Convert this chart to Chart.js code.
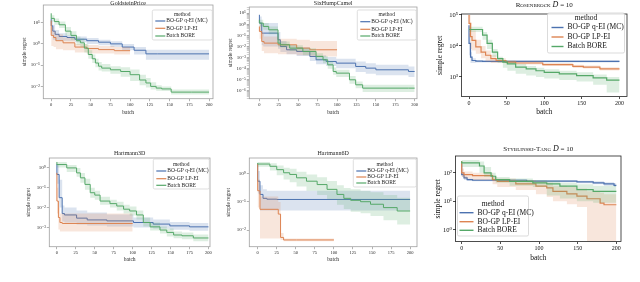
<!DOCTYPE html>
<html>
<head>
<meta charset="utf-8">
<script src="https://cdn.jsdelivr.net/npm/chart.js@4.4.0/dist/chart.umd.min.js"></script>
<style>
  html, body { margin: 0; padding: 0; background: #fff; }
  body { position: relative; width: 640px; height: 282px; overflow: hidden; }
  canvas { position: absolute; }
</style>
</head>
<body>
<script>
// values are log10(simple regret)

// GoldsteinPrice
const gpQeiX = [0, 2, 5, 10, 20, 30, 45, 60, 75, 90, 105, 120, 135, 200];
const gpQeiMid = [1.2, 0.85, 0.6, 0.45, 0.35, 0.3, 0.22, 0.15, 0.08, 0.0, -0.15, -0.3, -0.47, -0.47];
const gpQeiLo = [0.9, 0.4, 0.2, 0.15, 0.15, 0.15, 0.08, 0.0, -0.07, -0.15, -0.3, -0.5, -0.75, -0.75];
const gpQeiHi = [1.35, 1.1, 0.9, 0.65, 0.5, 0.42, 0.35, 0.28, 0.2, 0.12, 0.0, -0.15, -0.28, -0.28];
const gpLpX = [0, 3, 6, 15, 30, 45, 60, 80, 100];
const gpLpMid = [1.1, 0.4, 0.3, 0.15, 0.05, -0.15, -0.22, -0.27, -0.32];
const gpLpLo = [0.6, -0.1, -0.15, -0.25, -0.3, -0.4, -0.45, -0.45, -0.5];
const gpLpHi = [1.4, 0.8, 0.6, 0.45, 0.3, 0.0, -0.05, -0.1, -0.15];
const gpBoreX = [0, 4, 10, 18, 25, 32, 37, 42, 47, 52, 56, 60, 64, 75, 88, 100, 112, 120, 126, 133, 140, 152, 178, 200];
const gpBoreMid = [1.44, 1.2, 1.05, 0.9, 0.6, 0.4, 0.15, 0.05, -0.2, -0.5, -0.7, -0.9, -1.05, -1.14, -1.22, -1.3, -1.45, -1.7, -1.84, -2.0, -2.08, -2.12, -2.27, -2.27];
const gpBoreLo = [1.3, 1.05, 0.9, 0.75, 0.4, 0.2, -0.05, -0.15, -0.4, -0.7, -0.9, -1.1, -1.25, -1.3, -1.4, -1.55, -1.75, -1.95, -2.05, -2.15, -2.2, -2.22, -2.38, -2.38];
const gpBoreHi = [1.6, 1.35, 1.2, 1.05, 0.8, 0.6, 0.35, 0.25, 0.0, -0.3, -0.5, -0.7, -0.85, -0.95, -1.05, -1.1, -1.2, -1.45, -1.6, -1.8, -1.95, -2.0, -2.15, -2.15];

// SixHumpCamel
const shcQeiX = [0, 3, 5, 24, 27, 35, 48, 65, 73, 86, 99, 124, 137, 150, 192, 200];
const shcQeiMid = [0.85, 0.1, -0.8, -0.8, -1.4, -2.0, -2.3, -2.45, -2.9, -3.2, -3.35, -3.5, -3.8, -3.95, -4.1, -4.25];
const shcQeiLo = [0.3, -0.6, -1.9, -2.0, -2.2, -2.5, -2.7, -2.85, -3.3, -3.6, -3.75, -3.95, -4.3, -4.45, -4.6, -4.75];
const shcQeiHi = [1.2, 0.7, 0.1, 0.1, -0.7, -1.5, -1.9, -2.05, -2.5, -2.8, -2.95, -3.1, -3.35, -3.5, -3.65, -3.8];
const shcLpX = [0, 3, 6, 24, 48, 65, 73, 100];
const shcLpMid = [-0.2, -0.65, -1.55, -1.7, -1.85, -2.15, -2.3, -2.3];
const shcLpLo = [-0.9, -1.3, -2.4, -2.6, -2.7, -2.8, -2.9, -2.9];
const shcLpHi = [0.4, 0.0, -0.8, -1.1, -1.3, -1.4, -1.5, -1.5];
const shcBoreX = [0, 5, 12, 24, 27, 39, 56, 73, 82, 88, 95, 99, 116, 124, 133, 192, 200];
const shcBoreMid = [0.4, 0.1, -0.2, -0.5, -1.7, -1.85, -2.15, -2.45, -2.9, -3.2, -3.65, -4.25, -4.4, -5.0, -5.45, -5.75, -5.75];
const shcBoreLo = [0.1, -0.2, -0.5, -0.9, -2.0, -2.1, -2.4, -2.8, -3.2, -3.5, -4.0, -4.55, -4.75, -5.35, -5.75, -6.1, -6.1];
const shcBoreHi = [0.7, 0.4, 0.1, -0.2, -1.35, -1.55, -1.9, -2.15, -2.6, -2.85, -3.3, -3.9, -4.1, -4.65, -5.15, -5.45, -5.45];

// Rosenbrock D = 10
const rosQeiX = [0, 2, 4, 9, 18, 200];
const rosQeiMid = [4.67, 4.08, 3.64, 3.53, 3.51, 3.5];
const rosQeiLo = [4.3, 3.7, 3.45, 3.45, 3.47, 3.47];
const rosQeiHi = [4.8, 4.4, 3.8, 3.6, 3.55, 3.54];
const rosLpX = [0, 2, 4, 9, 16, 22, 29, 36, 49, 62, 98, 138, 152, 174, 200];
const rosLpMid = [5.0, 4.73, 4.3, 4.18, 3.97, 3.8, 3.7, 3.59, 3.53, 3.48, 3.45, 3.4, 3.34, 3.32, 3.26];
const rosLpLo = [4.85, 4.3, 3.9, 3.85, 3.75, 3.6, 3.5, 3.45, 3.45, 3.42, 3.4, 3.35, 3.29, 3.27, 3.21];
const rosLpHi = [5.05, 5.0, 4.75, 4.5, 4.2, 4.0, 3.85, 3.7, 3.6, 3.53, 3.5, 3.45, 3.39, 3.37, 3.31];
const rosBoreX = [0, 18, 24, 31, 38, 45, 51, 62, 76, 89, 100, 120, 143, 165, 183, 200];
const rosBoreMid = [4.53, 4.53, 4.35, 4.08, 3.8, 3.59, 3.48, 3.42, 3.32, 3.26, 3.2, 3.15, 3.1, 3.04, 2.97, 2.9];
const rosBoreLo = [4.45, 4.45, 4.2, 3.9, 3.65, 3.45, 3.3, 3.2, 3.1, 3.05, 3.0, 2.95, 2.9, 2.85, 2.75, 2.5];
const rosBoreHi = [4.62, 4.62, 4.45, 4.2, 3.9, 3.65, 3.55, 3.5, 3.42, 3.35, 3.3, 3.25, 3.2, 3.15, 3.08, 3.0];

// Hartmann3D
const h3QeiX = [0, 3, 7, 10, 26, 40, 66, 101, 127, 149, 175, 200];
const h3QeiMid = [0.2, -0.33, -1.5, -2.3, -2.37, -2.53, -2.62, -2.67, -2.75, -2.83, -2.92, -2.97];
const h3QeiLo = [0.1, -0.8, -2.0, -2.7, -2.75, -2.85, -2.9, -2.95, -3.0, -3.05, -3.12, -3.17];
const h3QeiHi = [0.3, 0.2, -0.6, -1.9, -2.0, -2.15, -2.25, -2.35, -2.5, -2.6, -2.72, -2.77];
const h3LpX = [0, 2, 4, 7, 100];
const h3LpMid = [-0.25, -1.67, -2.5, -2.75, -2.8];
const h3LpLo = [-0.9, -2.3, -3.1, -3.2, -3.2];
const h3LpHi = [0.15, -1.0, -2.0, -2.3, -2.3];
const h3BoreX = [0, 13, 26, 31, 37, 44, 50, 57, 70, 79, 88, 96, 105, 114, 123, 136, 145, 154, 165, 180, 200];
const h3BoreMid = [0.3, 0.17, 0.0, -0.25, -0.5, -0.83, -1.25, -1.37, -1.67, -1.8, -1.92, -2.08, -2.17, -2.37, -2.75, -2.97, -3.13, -3.25, -3.38, -3.42, -3.53];
const h3BoreLo = [0.2, 0.02, -0.2, -0.45, -0.75, -1.1, -1.5, -1.6, -1.85, -2.0, -2.15, -2.3, -2.4, -2.6, -2.95, -3.15, -3.3, -3.45, -3.55, -3.6, -3.7];
const h3BoreHi = [0.4, 0.3, 0.15, 0.0, -0.25, -0.55, -1.0, -1.15, -1.45, -1.6, -1.7, -1.85, -1.95, -2.15, -2.5, -2.75, -2.95, -3.05, -3.2, -3.25, -3.35];

// Hartmann6D
const h6QeiX = [0, 3, 7, 12, 25, 200];
const h6QeiMid = [0.35, -0.26, -0.73, -0.87, -0.9, -0.91];
const h6QeiLo = [0.2, -0.7, -1.3, -1.3, -1.3, -1.3];
const h6QeiHi = [0.38, 0.1, -0.4, -0.55, -0.6, -0.6];
const h6LpX = [0, 3, 7, 27, 30, 34, 51, 100];
const h6LpMid = [0.35, -0.6, -1.26, -1.26, -1.43, -2.26, -2.35, -2.35];
const h6LpLo = [0.2, -1.2, -2.3, -2.3, -2.3, -2.35, -2.4, -2.4];
const h6LpHi = [0.38, -0.2, -0.8, -0.8, -1.0, -2.1, -2.3, -2.3];
const h6BoreX = [0, 16, 25, 34, 42, 51, 64, 78, 91, 104, 113, 122, 135, 148, 165, 183, 200];
const h6BoreMid = [0.39, 0.35, 0.27, 0.15, 0.04, -0.02, -0.14, -0.26, -0.38, -0.55, -0.73, -0.87, -0.94, -0.99, -1.08, -1.2, -1.32];
const h6BoreLo = [0.3, 0.25, 0.12, -0.05, -0.2, -0.3, -0.45, -0.6, -0.75, -0.9, -1.1, -1.25, -1.35, -1.4, -1.5, -1.65, -1.8];
const h6BoreHi = [0.45, 0.42, 0.38, 0.3, 0.22, 0.18, 0.08, -0.02, -0.12, -0.25, -0.4, -0.5, -0.55, -0.6, -0.65, -0.75, -0.85];

// Styblinski-Tang D = 10
const stQeiX = [0, 3, 7, 14, 84, 149, 170, 184, 197, 200];
const stQeiMid = [2.32, 1.94, 1.82, 1.76, 1.74, 1.71, 1.68, 1.65, 1.61, 1.56];
const stQeiLo = [2.25, 1.85, 1.75, 1.71, 1.7, 1.67, 1.63, 1.6, 1.55, 1.5];
const stQeiHi = [2.4, 2.02, 1.88, 1.8, 1.78, 1.75, 1.72, 1.7, 1.67, 1.63];
const stLpX = [0, 3, 14, 40, 46, 70, 96, 110, 118, 136, 149, 162, 179, 184, 192, 200];
const stLpMid = [2.41, 2.0, 1.94, 1.9, 1.76, 1.7, 1.61, 1.53, 1.47, 1.35, 1.26, 1.18, 1.09, 0.94, 0.88, 0.88];
const stLpLo = [2.35, 1.85, 1.8, 1.75, 1.6, 1.5, 1.4, 1.25, 1.15, 1.0, 0.9, 0.8, -0.5, -0.5, -0.5, -0.5];
const stLpHi = [2.45, 2.15, 2.05, 2.0, 1.85, 1.8, 1.75, 1.7, 1.65, 1.55, 1.5, 1.45, 1.35, 1.3, 1.25, 1.25];
const stBoreX = [0, 23, 29, 38, 44, 62, 92, 110, 127, 149, 170, 200];
const stBoreMid = [2.41, 2.35, 2.24, 2.0, 1.88, 1.76, 1.7, 1.65, 1.61, 1.53, 1.41, 1.35];
const stBoreLo = [2.35, 2.2, 2.0, 1.85, 1.75, 1.65, 1.55, 1.5, 1.2, 1.1, 1.0, 0.95];
const stBoreHi = [2.45, 2.45, 2.4, 2.2, 2.0, 1.85, 1.8, 1.75, 1.72, 1.65, 1.6, 1.55];

const methodLabels = ["BO-GP q-EI (MC)", "BO-GP LP-EI", "Batch BORE"];
const methodColors = ["#4c72b0", "#dd8452", "#55a868"];
const bandColors = ["rgba(76,114,176,0.2)", "rgba(221,132,82,0.2)", "rgba(85,168,104,0.2)"];

const batchTicks25 = [0, 25, 50, 75, 100, 125, 150, 175, 200];
const batchTicks50 = [0, 50, 100, 150, 200];
const gpTicks = [1, 0, -1, -2];
const shcTicks = [1, 0, -1, -2, -3, -4, -5, -6];
const rosTicks = [5, 4, 3];
const h3Ticks = [0, -1, -2, -3];
const h6Ticks = [0, -1, -2];
const stTicks = [2, 1, 0];

const FAMILY = '"Liberation Serif", "DejaVu Serif", serif';

const seabornStyle = { tick: 4.5, axis: 5.5, title: 6, legend: 5.5, text: "#262626", spine: "#a0a0a0", edge: "#d0d0d0", lineW: 1 };
const texStyle = { tick: 6, axis: 7.5, title: 7, legend: 7.5, text: "#111", spine: "#222", edge: "#cccccc", lineW: 1.2 };

const panels = [
  { title: [["GoldsteinPrice", ""]], box: [43, 5, 213, 99], titleY: 3, yTitleX: 24, xTitleY: 113,
    xRange: [-10, 205], yRange: [-2.58, 1.83], yTicks: gpTicks, xTicks: batchTicks25, minor: false,
    series: [[gpQeiX, gpQeiMid, gpQeiLo, gpQeiHi], [gpLpX, gpLpMid, gpLpLo, gpLpHi], [gpBoreX, gpBoreMid, gpBoreLo, gpBoreHi]],
    legend: { x: 152, y: 10, w: 60, h: 30, rows: [5, 11, 18.3, 26], ls: 3, ll: 10, tx: 14 }, style: seabornStyle },
  { title: [["SixHumpCamel", ""]], box: [249, 7, 417, 99], titleY: 3, yTitleX: 230, xTitleY: 113,
    xRange: [-13, 203], yRange: [-6.7, 1.55], yTicks: shcTicks, xTicks: batchTicks25, minor: true,
    series: [[shcQeiX, shcQeiMid, shcQeiLo, shcQeiHi], [shcLpX, shcLpMid, shcLpLo, shcLpHi], [shcBoreX, shcBoreMid, shcBoreLo, shcBoreHi]],
    legend: { x: 357, y: 10, w: 59, h: 30, rows: [5, 11.7, 19.3, 26], ls: 3, ll: 10, tx: 14 }, style: seabornStyle },
  { title: [["Rosenbrock", "small-caps "], [" D", "italic "], [" = 10", ""]], box: [461, 14, 626, 96], titleY: 5, yTitleX: 440, xTitleY: 112,
    xRange: [-10, 210], yRange: [2.37, 5.03], yTicks: rosTicks, xTicks: batchTicks50, minor: false,
    series: [[rosQeiX, rosQeiMid, rosQeiLo, rosQeiHi], [rosLpX, rosLpMid, rosLpLo, rosLpHi], [rosBoreX, rosBoreMid, rosBoreLo, rosBoreHi]],
    legend: { x: 547, y: 13, w: 77, h: 40, rows: [5, 14.5, 24, 33.5], ls: 4, ll: 12, tx: 20 }, style: texStyle },
  { title: [["Hartmann3D", ""]], box: [49, 158, 210, 247], titleY: 153, yTitleX: 28, xTitleY: 260,
    xRange: [-10, 202], yRange: [-3.97, 0.5], yTicks: h3Ticks, xTicks: batchTicks25, minor: false,
    series: [[h3QeiX, h3QeiMid, h3QeiLo, h3QeiHi], [h3LpX, h3LpMid, h3LpLo, h3LpHi], [h3BoreX, h3BoreMid, h3BoreLo, h3BoreHi]],
    legend: { x: 153, y: 159, w: 56, h: 30, rows: [5.3, 12, 19.7, 26.3], ls: 3, ll: 10, tx: 14 }, style: seabornStyle },
  { title: [["Hartmann6D", ""]], box: [249, 158, 417, 247], titleY: 153, yTitleX: 228, xTitleY: 260,
    xRange: [-11, 209], yRange: [-2.59, 0.565], yTicks: h6Ticks, xTicks: batchTicks25, minor: false,
    series: [[h6QeiX, h6QeiMid, h6QeiLo, h6QeiHi], [h6LpX, h6LpMid, h6LpLo, h6LpHi], [h6BoreX, h6BoreMid, h6BoreLo, h6BoreHi]],
    legend: { x: 353, y: 159, w: 63, h: 28, rows: [5.5, 12, 18, 24], ls: 3, ll: 10, tx: 14 }, style: seabornStyle },
  { title: [["Styblinski-Tang", "small-caps "], [" D", "italic "], [" = 10", ""]], box: [455, 156, 620, 241], titleY: 149, yTitleX: 438, xTitleY: 258,
    xRange: [-8, 206], yRange: [-0.41, 2.59], yTicks: stTicks, xTicks: batchTicks50, minor: false,
    series: [[stQeiX, stQeiMid, stQeiLo, stQeiHi], [stLpX, stLpMid, stLpLo, stLpHi], [stBoreX, stBoreMid, stBoreLo, stBoreHi]],
    legend: { x: 457, y: 196, w: 71, h: 40, rows: [8, 16.7, 25.7, 34.3], ls: 2, ll: 14, tx: 20 }, style: texStyle }
];

const SUP = { "0": "⁰", "1": "¹", "2": "²", "3": "³", "4": "⁴", "5": "⁵", "6": "⁶", "7": "⁷", "8": "⁸", "9": "⁹", "-": "⁻" };
function decadeLabel(e) {
  return "10" + String(e).split("").map(c => SUP[c]).join("");
}

function pts(xs, logs) {
  return xs.map((x, i) => ({ x: x, y: Math.pow(10, logs[i]) }));
}

function makePanel(p) {
  const s = p.style;
  const [l, t, r, b] = p.box;
  const axisLH = s.axis * 1.2;
  const cLeft = p.yTitleX - axisLH / 2;
  const cTop = Math.max(0, p.titleY - 6);
  const cBottom = p.xTitleY + axisLH / 2;
  const w = Math.round(r - cLeft + 3);
  const h = Math.round(cBottom - cTop);

  const canvas = document.createElement("canvas");
  canvas.width = w;
  canvas.height = h;
  canvas.style.left = cLeft + "px";
  canvas.style.top = cTop + "px";
  canvas.style.width = w + "px";
  canvas.style.height = h + "px";
  document.body.appendChild(canvas);

  // draw order: last dataset at the bottom, so put BORE first
  const datasets = [];
  for (let m = 2; m >= 0; m--) {
    const [xs, mid, lo, hi] = p.series[m];
    datasets.push({ data: pts(xs, mid), borderColor: methodColors[m], borderWidth: s.lineW, pointRadius: 0, stepped: "after", fill: false });
    datasets.push({ data: pts(xs, hi), borderColor: "rgba(0,0,0,0)", borderWidth: 0, pointRadius: 0, stepped: "after", fill: "+1", backgroundColor: bandColors[m] });
    datasets.push({ data: pts(xs, lo), borderColor: "rgba(0,0,0,0)", borderWidth: 0, pointRadius: 0, stepped: "after", fill: false });
  }

  const yTickVals = [];
  p.yTicks.forEach(e => yTickVals.push({ value: Math.pow(10, e), major: true }));
  if (p.minor) {
    for (let e = Math.floor(p.yRange[0]); e <= Math.ceil(p.yRange[1]); e++) {
      for (let k = 2; k <= 9; k++) {
        const v = k * Math.pow(10, e);
        const lv = Math.log10(v);
        if (lv > p.yRange[0] && lv < p.yRange[1]) yTickVals.push({ value: v, major: false });
      }
    }
  }
  yTickVals.sort((a, b2) => a.value - b2.value);

  const framePlugin = {
    id: "frame" + l,
    afterDraw(chart) {
      const ctx = chart.ctx;
      const a = chart.chartArea;
      ctx.save();
      ctx.strokeStyle = s.spine;
      ctx.lineWidth = 0.8;
      ctx.strokeRect(a.left, a.top, a.right - a.left, a.bottom - a.top);

      // title
      ctx.fillStyle = s.text;
      ctx.textBaseline = "middle";
      const parts = p.title.map(([txt, pre]) => {
        const size = pre === "italic " ? s.title + 1 : s.title;
        const font = pre + size + "px " + FAMILY;
        ctx.font = font;
        return { txt, font, wd: ctx.measureText(txt).width };
      });
      const total = parts.reduce((acc, q) => acc + q.wd, 0);
      let tx = (a.left + a.right) / 2 - total / 2;
      const ty = p.titleY - cTop;
      parts.forEach(q => {
        ctx.font = q.font;
        ctx.textAlign = "left";
        ctx.fillText(q.txt, tx, ty);
        tx += q.wd;
      });

      // legend
      const L = p.legend;
      const lx = L.x - cLeft, ly = L.y - cTop;
      ctx.fillStyle = "rgba(255,255,255,0.8)";
      ctx.strokeStyle = s.edge;
      ctx.lineWidth = 0.7;
      ctx.beginPath();
      ctx.roundRect(lx, ly, L.w, L.h, 1.5);
      ctx.fill();
      ctx.stroke();
      ctx.fillStyle = s.text;
      ctx.font = s.legend + "px " + FAMILY;
      ctx.textAlign = "center";
      ctx.fillText("method", lx + L.w / 2, ly + L.rows[0]);
      ctx.textAlign = "left";
      methodLabels.forEach((lab, i) => {
        const ry = ly + L.rows[i + 1];
        ctx.strokeStyle = methodColors[i];
        ctx.lineWidth = s.lineW + 0.2;
        ctx.beginPath();
        ctx.moveTo(lx + L.ls, ry);
        ctx.lineTo(lx + L.ls + L.ll, ry);
        ctx.stroke();
        ctx.fillText(lab, lx + L.tx, ry);
      });
      ctx.restore();
    }
  };

  new Chart(canvas, {
    type: "line",
    data: { datasets: datasets },
    options: {
      responsive: false,
      animation: false,
      devicePixelRatio: 1,
      layout: { padding: { top: t - cTop, right: 3, left: 0, bottom: 0 } },
      plugins: { legend: { display: false }, tooltip: { enabled: false }, title: { display: false } },
      scales: {
        x: {
          type: "linear",
          min: p.xRange[0],
          max: p.xRange[1],
          afterBuildTicks: sc => { sc.ticks = p.xTicks.map(v => ({ value: v })); },
          afterFit: sc => { sc.height = cBottom - b; },
          grid: { drawOnChartArea: false, tickLength: 2.5, tickColor: s.spine, tickWidth: 0.8 },
          border: { display: false },
          ticks: { font: { family: FAMILY, size: s.tick }, color: s.text, padding: 1, maxRotation: 0, autoSkip: false },
          title: { display: true, text: "batch", font: { family: FAMILY, size: s.axis }, color: s.text, padding: 0 }
        },
        y: {
          type: "logarithmic",
          min: Math.pow(10, p.yRange[0]),
          max: Math.pow(10, p.yRange[1]),
          afterBuildTicks: sc => { sc.ticks = yTickVals.map(q => ({ value: q.value, major: q.major })); },
          afterFit: sc => { sc.width = l - cLeft; },
          grid: {
            drawOnChartArea: false, tickLength: 2.5, tickColor: s.spine,
            tickWidth: c => (c.tick && c.tick.major === false ? 0.5 : 0.8)
          },
          border: { display: false },
          ticks: {
            font: { family: FAMILY, size: s.tick + 0.5 }, color: s.text, padding: 1, autoSkip: false,
            callback: (v, i, ticks) => (ticks[i].major === false ? "" : decadeLabel(Math.round(Math.log10(v))))
          },
          title: { display: true, text: "simple regret", font: { family: FAMILY, size: s.axis }, color: s.text, padding: 0 }
        }
      }
    },
    plugins: [framePlugin]
  });
}

panels.forEach(makePanel);
</script>
</body>
</html>
